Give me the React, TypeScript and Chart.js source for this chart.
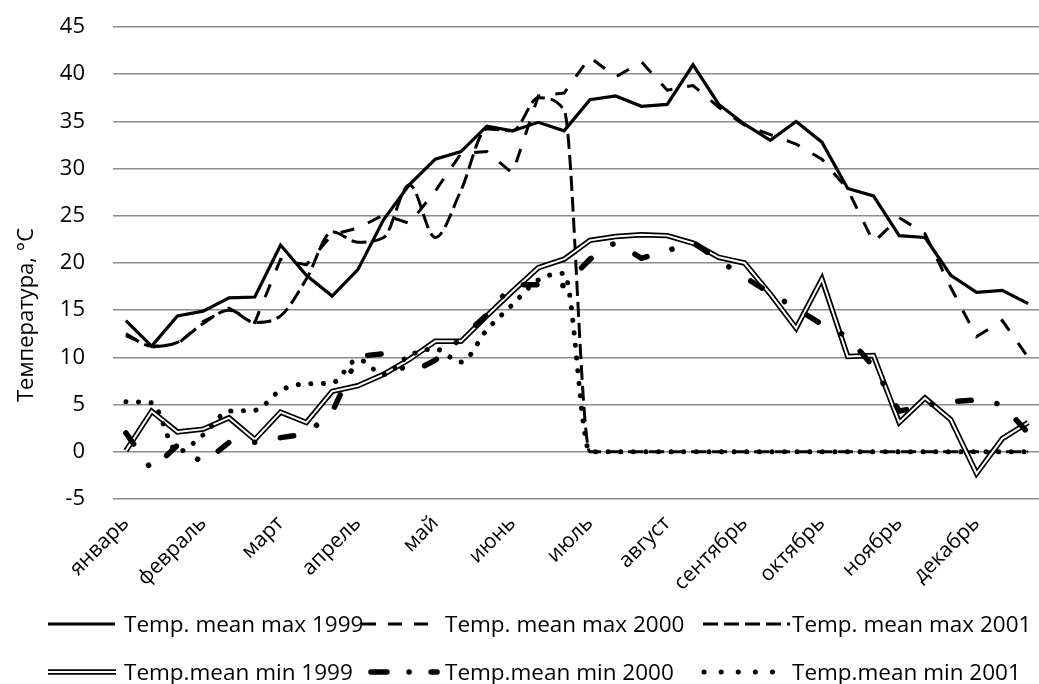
import React, { useEffect, useRef } from 'react';
import { Chart, registerables } from 'chart.js';

Chart.register(...registerables);

const months = ['январь', 'февраль', 'март', 'апрель', 'май', 'июнь', 'июль', 'август', 'сентябрь', 'октябрь', 'ноябрь', 'декабрь'];
const dekads = months.flatMap((m) => [m + ' I', m + ' II', m + ' III']);

const yTitle = 'Температура, °C';

const seriesNames = [
  'Temp. mean max 1999',
  'Temp. mean max 2000',
  'Temp. mean max 2001',
  'Temp.mean min 1999',
  'Temp.mean min 2000',
  'Temp.mean min 2001',
];

const maxT1999 = [13.9, 11.2, 14.4, 14.9, 16.3, 16.4, 21.9, 18.7, 16.5, 19.3, 24.6, 28.3, 31.0, 31.8, 34.5, 34.0, 34.9, 34.0, 37.3, 37.7, 36.6, 36.8, 41.0, 36.8, 34.7, 33.0, 35.0, 32.8, 27.9, 27.1, 22.9, 22.7, 18.7, 16.9, 17.1, 15.7];
const maxT2000 = [12.3, 11.1, 11.4, 13.8, 15.2, 13.7, 20.4, 19.8, 23.0, 23.7, 25.1, 24.2, 27.6, 31.6, 31.8, 29.5, 37.7, 38.0, 41.8, 39.7, 41.3, 38.3, 38.8, 36.5, 34.6, 33.6, 32.6, 31.0, 27.8, 22.2, 24.8, 23.1, 17.4, 12.2, 13.9, 10.0];
const maxT2001 = [12.5, 11.2, 11.6, 13.6, 15.0, 13.7, 14.4, 18.3, 23.3, 22.2, 22.7, 28.3, 22.7, 27.7, 34.2, 34.0, 37.5, 36.2, 0, 0, 0, 0, 0, 0, 0, 0, 0, 0, 0, 0, 0, 0, 0, 0, 0, 0];
const minT1999 = [0.1, 4.3, 2.1, 2.4, 3.6, 1.3, 4.2, 3.1, 6.4, 7.0, 8.2, 9.8, 11.7, 11.7, 14.4, 17.0, 19.5, 20.4, 22.4, 22.8, 23.0, 22.9, 22.1, 20.6, 20.0, 16.7, 13.1, 18.3, 10.1, 10.2, 3.1, 5.7, 3.4, -2.3, 1.4, 3.1];
const minT2000 = [2.0, -1.9, 0.7, -1.2, 1.0, 1.0, 1.5, 1.9, 4.2, 10.1, 10.4, 8.3, 9.7, 12.0, 14.5, 17.7, 17.7, 17.6, 20.4, 22.2, 20.5, 21.3, 22.2, 20.3, 18.5, 16.8, 15.2, 13.5, 12.2, 9.0, 4.3, 4.9, 5.3, 5.5, 5.0, 2.0];
const minT2001 = [5.3, 5.2, 0.0, 1.8, 4.3, 4.4, 6.5, 7.2, 7.3, 9.8, 8.2, 10.2, 10.9, 9.5, 12.9, 15.6, 18.2, 18.9, 0, 0, 0, 0, 0, 0, 0, 0, 0, 0, 0, 0, 0, 0, 0, 0, 0, 0];

const FONT = '"Open Sans", "DejaVu Sans", sans-serif';

type LineKind = 'solid' | 'dash' | 'sysdash' | 'double' | 'dashdot' | 'dot';

function strokeKind(ctx: CanvasRenderingContext2D, kind: LineKind, x0: number, x1: number, y: number) {
  ctx.save();
  ctx.strokeStyle = '#000';
  ctx.lineCap = 'butt';
  const line = () => {
    ctx.beginPath();
    ctx.moveTo(x0, y);
    ctx.lineTo(x1, y);
    ctx.stroke();
  };
  if (kind === 'solid') {
    ctx.lineWidth = 3.2;
    line();
  } else if (kind === 'dash') {
    ctx.lineWidth = 3;
    ctx.setLineDash([14, 12]);
    line();
  } else if (kind === 'sysdash') {
    ctx.lineWidth = 3;
    ctx.setLineDash([15, 6]);
    line();
  } else if (kind === 'double') {
    ctx.lineWidth = 5.5;
    line();
    ctx.strokeStyle = '#fff';
    ctx.lineWidth = 2;
    line();
  } else if (kind === 'dashdot') {
    ctx.lineWidth = 5.5;
    ctx.lineCap = 'round';
    ctx.setLineDash([16, 22, 0.1, 22]);
    line();
  } else if (kind === 'dot') {
    ctx.lineWidth = 5;
    ctx.lineCap = 'round';
    ctx.setLineDash([0.1, 17]);
    ctx.beginPath();
    ctx.moveTo(x0 + 2, y);
    ctx.lineTo(x1, y);
    ctx.stroke();
  }
  ctx.restore();
}

const legendItems: { name: number; kind: LineKind; x0: number; x1: number; tx: number; row: number }[] = [
  { name: 0, kind: 'solid', x0: 48, x1: 115, tx: 124, row: 0 },
  { name: 1, kind: 'dash', x0: 362, x1: 438, tx: 445, row: 0 },
  { name: 2, kind: 'sysdash', x0: 703, x1: 790, tx: 792, row: 0 },
  { name: 3, kind: 'double', x0: 48, x1: 116, tx: 124, row: 1 },
  { name: 4, kind: 'dashdot', x0: 371, x1: 437, tx: 445, row: 1 },
  { name: 5, kind: 'dot', x0: 702, x1: 788, tx: 792, row: 1 },
];

const overlayPlugin = {
  id: 'overlay',
  afterDraw(chart: any) {
    const ctx: CanvasRenderingContext2D = chart.ctx;
    // y-axis title
    ctx.save();
    ctx.fillStyle = '#000';
    ctx.font = `22px ${FONT}`;
    ctx.translate(33, 315);
    ctx.rotate(-Math.PI / 2);
    ctx.textAlign = 'center';
    ctx.textBaseline = 'alphabetic';
    ctx.fillText(yTitle, 0, 0);
    ctx.restore();
    // legend
    const rowLine = [624, 672];
    const rowBase = [632, 680];
    legendItems.forEach((it) => {
      strokeKind(ctx, it.kind, it.x0, it.x1, rowLine[it.row]);
      ctx.save();
      ctx.fillStyle = '#000';
      ctx.font = `22.5px ${FONT}`;
      ctx.textAlign = 'left';
      ctx.textBaseline = 'alphabetic';
      ctx.fillText(seriesNames[it.name], it.tx, rowBase[it.row]);
      ctx.restore();
    });
  },
};

export default function App() {
  const ref = useRef<HTMLCanvasElement>(null);
  useEffect(() => {
    document.body.style.margin = '0';
    document.body.style.overflow = 'hidden';
    const canvas = ref.current!;
    const chart = new Chart(canvas, {
      type: 'line',
      data: {
        labels: dekads,
        datasets: [
          { label: seriesNames[0], data: maxT1999, borderColor: '#000', borderWidth: 3.2, order: 7, borderJoinStyle: 'miter' },
          { label: seriesNames[1], data: maxT2000, borderColor: '#000', borderWidth: 3, borderDash: [14, 15], order: 6 },
          { label: seriesNames[2], data: maxT2001, borderColor: '#000', borderWidth: 3, borderDash: [15, 6], order: 5, cubicInterpolationMode: 'monotone' },
          { label: seriesNames[3], data: minT1999, borderColor: '#000', borderWidth: 5.5, order: 4 },
          { label: seriesNames[3] + ' inner', data: minT1999, borderColor: '#fff', borderWidth: 2, order: 3 },
          { label: seriesNames[4], data: minT2000, borderColor: '#000', borderWidth: 5.5, borderDash: [13.5, 26, 0.1, 26], borderCapStyle: 'round', order: 2 },
          { label: seriesNames[5], data: minT2001, borderColor: '#000', borderWidth: 5, borderDash: [0.1, 12.5], borderCapStyle: 'round', order: 1, cubicInterpolationMode: 'monotone' },
        ] as any,
      },
      options: {
        responsive: false,
        animation: false,
        devicePixelRatio: 1,
        layout: { padding: { top: 27, right: 4, bottom: 0, left: 0 } },
        plugins: { legend: { display: false }, tooltip: { enabled: false }, title: { display: false } },
        elements: { point: { radius: 0 }, line: { tension: 0, fill: false } },
        scales: {
          x: {
            offset: true,
            grid: { display: false },
            border: { display: false },
            ticks: {
              autoSkip: false,
              maxRotation: 45,
              minRotation: 45,
              color: '#000',
              padding: 4,
              font: { family: FONT, size: 21 },
              callback: (_v: any, i: number) => (i % 3 === 0 ? months[i / 3] : ''),
            },
            afterFit: (s: any) => {
              s.height = 684 - 499;
            },
          },
          y: {
            min: -5,
            max: 45,
            ticks: { stepSize: 5, color: '#000', padding: 0, font: { family: FONT, size: 22 } },
            grid: { color: '#8c8c8c', lineWidth: 1.5, drawTicks: true, tickLength: 28, tickColor: 'rgba(0,0,0,0)' },
            border: { display: false },
            afterFit: (s: any) => {
              s.width = 113;
            },
          },
        },
      } as any,
      plugins: [overlayPlugin],
    });
    return () => chart.destroy();
  }, []);
  return (
    <div style={{ position: 'fixed', left: 0, top: 0, width: 1039, height: 684, overflow: 'hidden', background: '#fff' }}>
      <canvas ref={ref} width={1050} height={684} style={{ display: 'block', width: 1050, height: 684 }} />
    </div>
  );
}
